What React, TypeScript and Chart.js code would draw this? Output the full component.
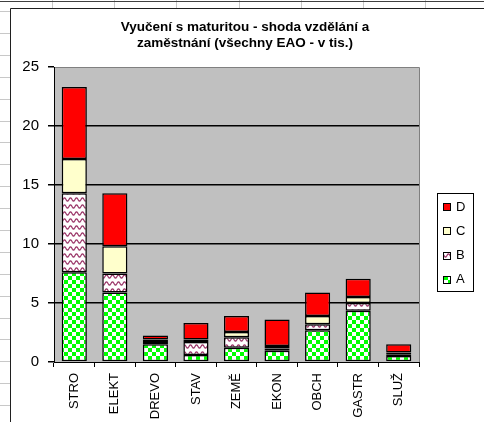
import React, { useEffect, useRef } from "react";
import { Chart, registerables } from "chart.js";

Chart.register(...registerables);

const categories = ["STRO", "ELEKT", "DREVO", "STAV", "ZEMĚ", "EKON", "OBCH", "GASTR", "SLUŽ"];
const seriesA = [7.6, 5.9, 1.5, 0.6, 1.2, 0.95, 2.7, 4.35, 0.5];
const seriesB = [6.7, 1.6, 0.2, 1.1, 0.9, 0.2, 0.5, 0.65, 0.15];
const seriesC = [2.9, 2.3, 0.2, 0.2, 0.45, 0.2, 0.7, 0.5, 0.15];
const seriesD = [6.1, 4.5, 0.35, 1.4, 1.35, 2.25, 2.0, 1.55, 0.7];
const seriesNames = ["A", "B", "C", "D"];
const titleLines = ["Vyučení s maturitou - shoda vzdělání a", "zaměstnání (všechny EAO - v tis.)"];
const yMin = 0;
const yMax = 25;
const yStep = 5;

const FONT = "'Liberation Sans', Arial, sans-serif";

function makeChecker(): CanvasPattern | string {
  const c = document.createElement("canvas");
  c.width = 8;
  c.height = 8;
  const g = c.getContext("2d");
  if (!g) return "#00ff00";
  g.fillStyle = "#ffffff";
  g.fillRect(0, 0, 8, 8);
  g.fillStyle = "#00ff00";
  g.fillRect(0, 0, 4, 4);
  g.fillRect(4, 4, 4, 4);
  return g.createPattern(c, "repeat") as CanvasPattern;
}

function makeWave(): CanvasPattern | string {
  const w = 6;
  const h = 7;
  const c = document.createElement("canvas");
  c.width = w;
  c.height = h;
  const g = c.getContext("2d");
  if (!g) return "#cc99cc";
  g.fillStyle = "#ffffff";
  g.fillRect(0, 0, w, h);
  g.strokeStyle = "#993366";
  g.lineWidth = 1.2;
  g.beginPath();
  for (let x = -1; x <= w + 1; x += 0.5) {
    const y = 3.5 + 1.6 * Math.sin((2 * Math.PI * x) / w);
    if (x === -1) g.moveTo(x, y);
    else g.lineTo(x, y);
  }
  g.stroke();
  return g.createPattern(c, "repeat") as CanvasPattern;
}

export default function App() {
  const ref = useRef<HTMLCanvasElement | null>(null);

  useEffect(() => {
    const canvas = ref.current;
    if (!canvas) return;
    const patA = makeChecker();
    const patB = makeWave();
    const fills: (CanvasPattern | string)[] = [patA, patB, "#ffffcc", "#ff0000"];
    const values = [seriesA, seriesB, seriesC, seriesD];

    const decor = {
      id: "decor",
      beforeDraw(chart: any) {
        const ctx = chart.ctx as CanvasRenderingContext2D;
        const W = chart.width;
        const H = chart.height;
        ctx.save();
        ctx.fillStyle = "#ffffff";
        ctx.fillRect(0, 0, W, H);
        // spreadsheet grid
        ctx.strokeStyle = "#c8c8c8";
        ctx.lineWidth = 1;
        for (let y = 11; y < H; y += 21.9) {
          ctx.beginPath();
          ctx.moveTo(0, Math.round(y) + 0.5);
          ctx.lineTo(10, Math.round(y) + 0.5);
          ctx.stroke();
        }
        for (let x = 52; x < W; x += 62.2) {
          ctx.beginPath();
          ctx.moveTo(Math.round(x) + 0.5, 0);
          ctx.lineTo(Math.round(x) + 0.5, 8);
          ctx.stroke();
        }
        ctx.strokeStyle = "#404040";
        ctx.beginPath();
        ctx.moveTo(0, 1.5);
        ctx.lineTo(W, 1.5);
        ctx.stroke();
        // chart frame
        ctx.strokeStyle = "#202020";
        ctx.beginPath();
        ctx.moveTo(10.5, H);
        ctx.lineTo(10.5, 8.5);
        ctx.lineTo(W, 8.5);
        ctx.stroke();
        // plot background
        const a = chart.chartArea;
        ctx.fillStyle = "#c0c0c0";
        ctx.fillRect(a.left, a.top, a.right - a.left, a.bottom - a.top);
        ctx.strokeStyle = "#808080";
        ctx.beginPath();
        ctx.moveTo(a.left, a.top + 0.5);
        ctx.lineTo(a.right + 0.5, a.top + 0.5);
        ctx.lineTo(a.right + 0.5, a.bottom);
        ctx.stroke();
        ctx.restore();
      },
      afterDraw(chart: any) {
        const ctx = chart.ctx as CanvasRenderingContext2D;
        ctx.save();
        // title
        ctx.fillStyle = "#000000";
        ctx.font = `bold 13.5px ${FONT}`;
        ctx.textAlign = "center";
        ctx.textBaseline = "middle";
        titleLines.forEach((t, i) => ctx.fillText(t, 245, 27 + i * 16));
        // legend
        ctx.fillStyle = "#ffffff";
        ctx.fillRect(437, 193, 36, 98);
        ctx.strokeStyle = "#000000";
        ctx.lineWidth = 1;
        ctx.strokeRect(437.5, 193.5, 36, 98);
        ctx.font = `13px ${FONT}`;
        ctx.textAlign = "left";
        const order = [3, 2, 1, 0];
        order.forEach((si, i) => {
          const cy = 207 + i * 24.3;
          const y0 = Math.round(cy - 4);
          ctx.fillStyle = fills[si] as any;
          ctx.fillRect(443, y0, 8, 8);
          ctx.strokeStyle = "#000000";
          ctx.strokeRect(443.5, y0 + 0.5, 7, 7);
          ctx.fillStyle = "#000000";
          ctx.fillText(seriesNames[si], 456, cy);
        });
        ctx.restore();
      },
    };

    const chart = new Chart(canvas, {
      type: "bar",
      data: {
        labels: categories,
        datasets: values.map((v, i) => ({
          label: seriesNames[i],
          data: v,
          backgroundColor: fills[i] as any,
          borderColor: "#000000",
          borderWidth: 1.5,
          borderSkipped: false,
          categoryPercentage: 1,
          barPercentage: 0.62,
        })),
      },
      options: {
        animation: false,
        responsive: false,
        devicePixelRatio: 1,
        events: [],
        layout: { padding: { left: 10, top: 67, right: 65, bottom: 0 } },
        plugins: {
          legend: { display: false },
          title: { display: false },
          tooltip: { enabled: false },
        },
        scales: {
          x: {
            stacked: true,
            grid: {
              offset: true,
              drawOnChartArea: false,
              tickLength: 5,
              color: "#000000",
              tickColor: "#000000",
            },
            border: { color: "#000000", width: 1 },
            ticks: {
              minRotation: 90,
              maxRotation: 90,
              autoSkip: false,
              padding: 6,
              color: "#000000",
              font: { family: FONT, size: 13 },
            },
            afterFit(scale: any) {
              scale.height = 60;
            },
          },
          y: {
            stacked: true,
            min: yMin,
            max: yMax,
            ticks: {
              stepSize: yStep,
              padding: 9,
              color: "#000000",
              font: { family: FONT, size: 15 },
            },
            grid: {
              color: (c: any) =>
                c.tick && (c.tick.value === yMin || c.tick.value === yMax) ? "rgba(0,0,0,0)" : "#000000",
              tickColor: "#000000",
              tickLength: 6,
              lineWidth: 1.5,
            },
            border: { color: "#000000", width: 1 },
            afterFit(scale: any) {
              scale.width = 44;
            },
          },
        },
      },
      plugins: [decor],
    });

    return () => chart.destroy();
  }, []);

  return (
    <canvas
      ref={ref}
      width={484}
      height={422}
      style={{ position: "fixed", left: 0, top: 0, width: 484, height: 422 }}
    />
  );
}
